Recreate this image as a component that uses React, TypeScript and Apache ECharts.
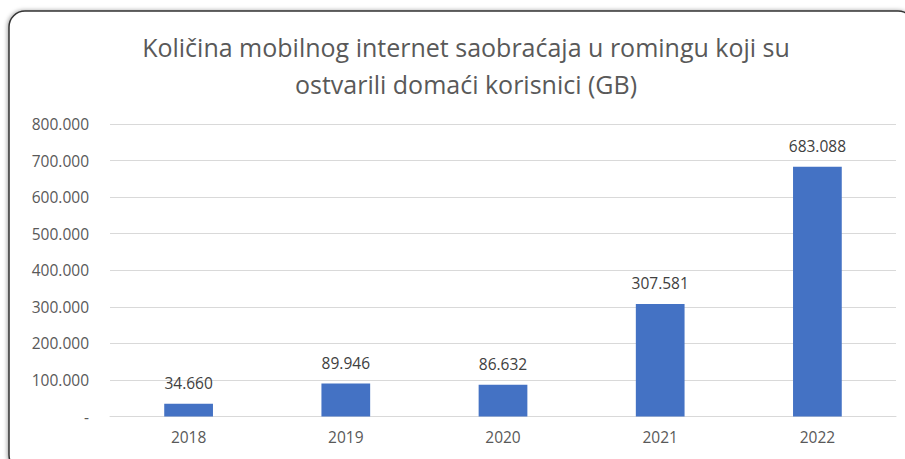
import React, { useEffect, useRef } from "react";
import * as echarts from "echarts";

const categories = ["2018", "2019", "2020", "2021", "2022"];
const values = [34660, 89946, 86632, 307581, 683088];
const titleLines = [
  "Količina mobilnog internet saobraćaja u romingu koji su",
  "ostvarili domaći korisnici (GB)",
];

const fmt = (v: number) =>
  v === 0 ? "-" : String(Math.round(v)).replace(/\B(?=(\d{3})+(?!\d))/g, ".");

export default function App() {
  const ref = useRef<HTMLDivElement>(null);
  useEffect(() => {
    if (!ref.current) return;
    const chart = echarts.init(ref.current, null, { renderer: "svg" });
    const font = "'Open Sans', 'Noto Sans', sans-serif";
    chart.setOption({
      animation: false,
      backgroundColor: "#ffffff",
      graphic: [
        {
          type: "rect",
          shape: { x: 9, y: 11, width: 905, height: 460, r: 16 },
          style: {
            fill: "#ffffff",
            stroke: "#333333",
            lineWidth: 1.5,
            shadowBlur: 4,
            shadowColor: "rgba(0,0,0,0.35)",
            shadowOffsetX: -1,
            shadowOffsetY: 0,
          },
          z: -10,
        },
        ...titleLines.map((t, i) => ({
          type: "text",
          x: 466,
          y: 47 + i * 37,
          style: {
            text: t,
            fill: "#595959",
            font: `25px ${font}`,
            align: "center",
            verticalAlign: "middle",
          },
        })),
      ],
      grid: { left: 110, right: 9, top: 124, bottom: 42.5 },
      xAxis: {
        type: "category",
        data: categories,
        axisLine: { lineStyle: { color: "#d9d9d9", width: 1 } },
        axisTick: { show: false },
        axisLabel: { color: "#595959", fontSize: 15.5, fontFamily: font, margin: 12 },
      },
      yAxis: {
        type: "value",
        min: 0,
        max: 800000,
        interval: 100000,
        axisLine: { show: false },
        axisTick: { show: false },
        splitLine: { lineStyle: { color: "#d9d9d9", width: 1 } },
        axisLabel: {
          color: "#595959",
          fontSize: 15.5,
          fontFamily: font,
          margin: 21,
          formatter: (v: number) => fmt(v),
        },
      },
      series: [
        {
          type: "bar",
          data: values,
          barWidth: "31%",
          itemStyle: { color: "#4472C4" },
          label: {
            show: true,
            position: "top",
            distance: 13,
            color: "#404040",
            fontSize: 15.5,
            fontFamily: font,
            formatter: (p: any) => fmt(p.value),
          },
        },
      ],
    });
    return () => chart.dispose();
  }, []);
  return <div ref={ref} style={{ width: 905, height: 459, position: "absolute", left: 0, top: 0 }} />;
}
